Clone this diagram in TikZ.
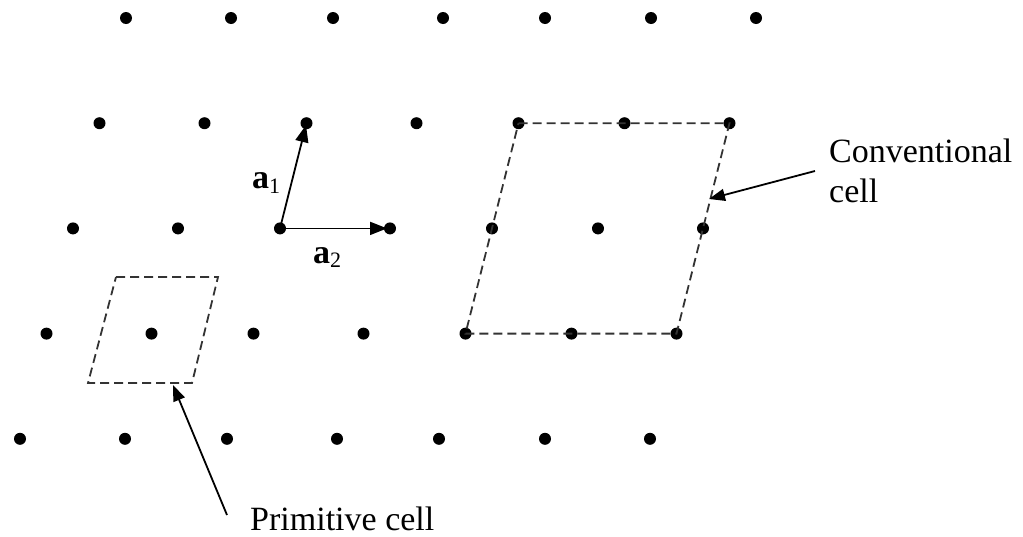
\documentclass[tikz,border=0pt]{standalone}
\usepackage{fontspec}
\setmainfont{Liberation Serif}
\usetikzlibrary{arrows.meta}
\tikzset{
  latdot/.style={circle, fill=black, inner sep=0pt, minimum size=12pt},
  vec/.style={line width=1.8pt, -{Triangle[length=17pt,width=13pt]}},
  ptr/.style={line width=1.8pt, -{Triangle[length=16pt,width=12pt]}},
  cellbox/.style={line width=1.8pt, draw=black!80, dash pattern=on 9pt off 5pt},
  lbl/.style={inner sep=0pt, font=\fontsize{34}{40}\selectfont},
  veclbl/.style={inner sep=0pt, anchor=base west, font=\fontsize{34}{40}\selectfont}
}
\begin{document}
\begin{tikzpicture}[x=1pt,y=-1pt]
\useasboundingbox (0,0) rectangle (1023,536);
% lattice points
\foreach \bx [count=\c] in {126,231,333,443,545,651,756}{
  \foreach \r in {1,...,5}{
    \node[latdot] (d\r\c) at ({\bx-26.5*(\r-1)},{18+105.2*(\r-1)}) {};
  }
}
% conventional cell
\draw[cellbox] (d25.center) -- (d27.center) -- (d47.center) -- (d45.center) -- cycle;
% primitive cell
\coordinate (pc1) at (116,277);
\coordinate (pc2) at (218,277);
\coordinate (pc3) at (192,383);
\coordinate (pc4) at (88,383);
\draw[cellbox] (pc1) -- (pc2) -- (pc3) -- (pc4) -- cycle;
% primitive vectors
\draw[vec, shorten >=2pt] (d33.center) -- (d23.center);
\draw[vec, shorten >=3pt] (d33.center) -- (d34.center);
\node[veclbl] (la1) at (252,188) {\textbf{a}\raisebox{-5pt}{\fontsize{22}{22}\selectfont 1}};
\node[veclbl] (la2) at (313,263) {\textbf{a}\raisebox{-4pt}{\fontsize{22}{22}\selectfont 2}};
% labels
\node[lbl, anchor=base west] (conv) at (829,162) {\begin{tabular}[t]{@{}l@{}}Conventional\\cell\end{tabular}};
\node[lbl, anchor=base west] (prim) at (250,530) {Primitive cell};
\coordinate (ca) at (815,171);
\coordinate (ct) at (709,199);
\draw[ptr] (ca) -- (ct);
\coordinate (pa) at (227,515);
\coordinate (pt) at (173,385);
\draw[ptr] (pa) -- (pt);
\end{tikzpicture}
\end{document}
